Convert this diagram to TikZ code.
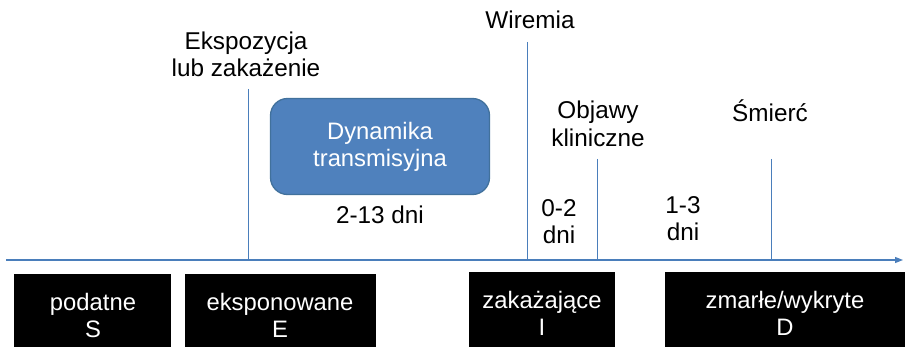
\documentclass[tikz,border=0pt]{standalone}
\usepackage{fontspec}
\setmainfont{Liberation Sans}
\usetikzlibrary{arrows.meta}
\definecolor{lineblue}{HTML}{4A7EBB}
\definecolor{boxblue}{HTML}{4F81BD}
\definecolor{boxedge}{HTML}{41719C}
\begin{document}
\begin{tikzpicture}[x=1pt,y=-1pt,
  txt/.style={font=\fontsize{24.3}{27.5}\selectfont, align=center, inner sep=0pt, text=black},
  blackbox/.style={fill=black, draw=none},
  boxtxt/.style={font=\fontsize{23.8}{27}\selectfont, align=center, inner sep=0pt, text=white},
  tick/.style={draw=lineblue, line width=1pt},
  axis/.style={draw=lineblue, line width=1.3pt, -{Triangle[length=8pt,width=6pt]}}
]
\useasboundingbox (0,0) rectangle (905,347);
% axis
\coordinate (a0) at (6,260);
\coordinate (a1) at (903,260);
\draw[axis] (a0) -- (a1);
% ticks
\coordinate (t1top) at (248,89);  \coordinate (t1bot) at (248,260);
\coordinate (t2top) at (527,42);  \coordinate (t2bot) at (527,260);
\coordinate (t3top) at (597,159); \coordinate (t3bot) at (597,260);
\coordinate (t4top) at (771,159); \coordinate (t4bot) at (771,260);
\draw[tick] (t1top) -- (t1bot);
\draw[tick] (t2top) -- (t2bot);
\draw[tick] (t3top) -- (t3bot);
\draw[tick] (t4top) -- (t4bot);
% top labels
\node[txt] (ekspo) at (246,54.5) {Ekspozycja\\lub zakażenie};
\node[txt] (wir) at (530,20) {Wiremia};
\node[txt] (obj) at (598,124) {Objawy\\kliniczne};
\node[txt] (smierc) at (770,111) {Śmierć};
\node[txt] (d213) at (380,215) {2-13 dni};
\node[txt] (d02) at (559,221.5) {0-2\\dni};
\node[txt] (d13) at (683,218.5) {1-3\\dni};
% transmission box
\node[draw=boxedge, fill=boxblue, line width=1.3pt, rounded corners=17pt,
      minimum width=219pt, minimum height=96pt, inner sep=0pt] (dyn) at (380,146.5) {};
\node[boxtxt] (dyntxt) at (dyn.center) {Dynamika\\transmisyjna};
% bottom boxes
\fill[blackbox] (14,274) rectangle (171,347);
\node[boxtxt] (S) at (93,315.5) {podatne\\S};
\fill[blackbox] (185,274) rectangle (376,347);
\node[boxtxt] (E) at (280,315.5) {eksponowane\\E};
\fill[blackbox] (469,272) rectangle (615,347);
\node[boxtxt] (I) at (542,313) {zakażające\\I};
\fill[blackbox] (665,272) rectangle (905,347);
\node[boxtxt] (D) at (785,313) {zmarłe/wykryte\\D};
\end{tikzpicture}
\end{document}
